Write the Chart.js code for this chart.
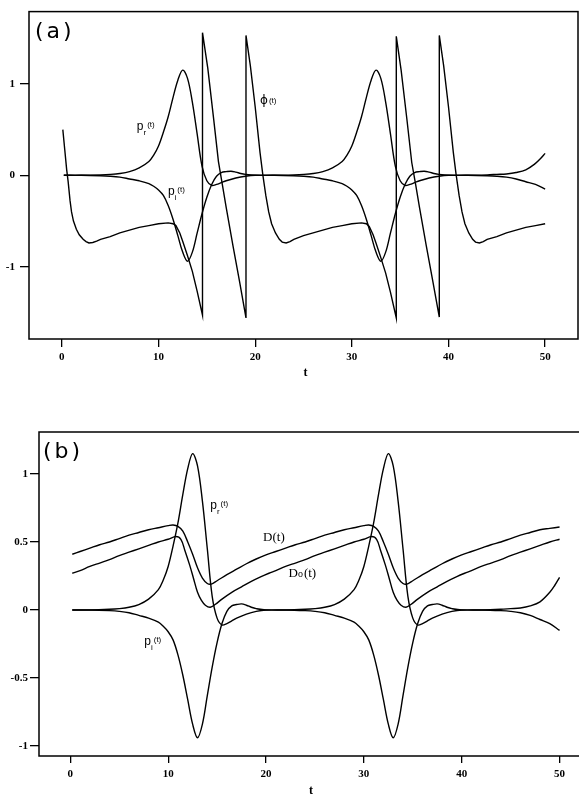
<!DOCTYPE html>
<html><head><meta charset="utf-8">
<script src="https://cdn.jsdelivr.net/npm/chart.js@4"></script>
<style>
html,body{margin:0;padding:0;background:#fff;overflow:hidden;width:579px;height:794px;}
canvas{position:absolute;left:0;}
#ca{top:0;}
#cb{top:390px;}
</style></head><body>
<canvas id="ca" width="579" height="385"></canvas>
<canvas id="cb" width="590" height="404"></canvas>
<script>
// ---------- data ----------
const xTicks = [0, 10, 20, 30, 40, 50];
const yTicksA = [1, 0, -1];
const yTicksB = [1, 0.5, 0, -0.5, -1];
const yTickLabelsB = ['1', '0.5', '0', '-0.5', '-1'];

const prT = [0.2,2,4,5,6,7,8,9,9.5,10,10.5,11,11.5,12,12.5,13,13.5,14,14.5,15,15.5,16,16.5,17,18,19,20,
  22,24,25,26,27,28,29,29.5,30,30.5,31,31.5,32,32.5,33,33.5,34,34.5,35,35.5,36,36.5,37,38,39,40,
  42,44,45,46,47,48,49,49.5,50];
const prV = [0,0,0.005,0.01,0.02,0.04,0.08,0.15,0.22,0.32,0.47,0.64,0.85,1.04,1.15,1.06,0.8,0.45,0.1,-0.06,-0.11,-0.1,-0.08,-0.06,-0.03,-0.01,0,
  0,0.005,0.01,0.02,0.04,0.08,0.15,0.22,0.32,0.47,0.64,0.85,1.04,1.15,1.06,0.8,0.45,0.1,-0.06,-0.11,-0.1,-0.08,-0.06,-0.03,-0.01,0,
  0,0.005,0.01,0.015,0.03,0.06,0.13,0.18,0.24];

const piT = [0.2,2,4,5,6,7,8,9,9.5,10,10.5,11,11.5,12,12.5,13,13.5,14,14.5,15,15.5,16,16.5,17,17.5,18,18.5,19,20,
  22,24,25,26,27,28,29,29.5,30,30.5,31,31.5,32,32.5,33,33.5,34,34.5,35,35.5,36,36.5,37,37.5,38,38.5,39,40,
  42,44,45,46,47,48,49,50];
const piV = [0,0,-0.005,-0.01,-0.02,-0.04,-0.06,-0.09,-0.12,-0.16,-0.22,-0.33,-0.48,-0.66,-0.84,-0.94,-0.84,-0.63,-0.42,-0.24,-0.1,-0.01,0.03,0.04,0.045,0.035,0.02,0.01,0,
  0,-0.005,-0.01,-0.02,-0.04,-0.06,-0.09,-0.12,-0.16,-0.22,-0.33,-0.48,-0.66,-0.84,-0.94,-0.84,-0.63,-0.42,-0.24,-0.1,-0.01,0.03,0.04,0.045,0.035,0.02,0.01,0,
  0,-0.005,-0.01,-0.02,-0.04,-0.07,-0.1,-0.15];

const phiT = [0.1,0.3,0.5,0.65,0.85,1,1.2,1.5,1.8,2.2,2.5,2.8,3.2,3.6,4,5,6,7,8,9,10,11,11.5,11.8,12.2,12.5,13,13.5,14,14.55,
  14.55,15.1,15.7,16.2,16.6,17,17.7,18.4,19.05,
  19.05,19.5,20,20.5,20.8,21.1,21.4,21.7,22.1,22.5,22.8,23.2,23.6,24,25,26,27,28,29,30,31,31.5,31.8,32.2,32.5,33,33.5,34,34.6,
  34.6,35.1,35.7,36.2,36.6,37,37.7,38.4,39.05,
  39.05,39.5,40,40.5,40.8,41.1,41.4,41.7,42.1,42.5,42.8,43.2,43.6,44,45,46,47,48,49,50];
const phiV = [0.5,0.28,0.06,-0.07,-0.28,-0.4,-0.5,-0.59,-0.65,-0.7,-0.725,-0.74,-0.735,-0.72,-0.7,-0.67,-0.63,-0.6,-0.57,-0.55,-0.53,-0.52,-0.53,-0.55,-0.63,-0.72,-0.88,-1.05,-1.27,-1.53,
  1.56,1.17,0.62,0.15,-0.1,-0.35,-0.77,-1.17,-1.56,
  1.53,1.2,0.75,0.25,0.0,-0.22,-0.4,-0.53,-0.63,-0.7,-0.73,-0.74,-0.725,-0.7,-0.66,-0.63,-0.6,-0.57,-0.55,-0.53,-0.52,-0.53,-0.56,-0.65,-0.74,-0.9,-1.07,-1.28,-1.56,
  1.52,1.15,0.61,0.14,-0.1,-0.35,-0.77,-1.17,-1.55,
  1.53,1.2,0.75,0.25,0.0,-0.22,-0.4,-0.53,-0.63,-0.7,-0.73,-0.74,-0.725,-0.7,-0.67,-0.63,-0.6,-0.57,-0.55,-0.53];

const dT = [0.2,1,2,3,4,5,6,7,8,9,10,10.5,11,11.5,12,12.5,13,13.5,14,14.4,15,16,17,18,19,20,
  21,22,23,24,25,26,27,28,29,30,30.5,31,31.5,32,32.5,33,33.5,34,34.4,35,36,37,38,39,40,
  41,42,43,44,45,46,47,48,49,50];
const dV = [0.41,0.43,0.455,0.48,0.5,0.525,0.55,0.57,0.59,0.605,0.62,0.625,0.615,0.58,0.5,0.41,0.31,0.235,0.195,0.19,0.215,0.26,0.3,0.34,0.375,0.405,
  0.43,0.455,0.48,0.5,0.525,0.55,0.57,0.59,0.605,0.62,0.625,0.615,0.58,0.5,0.41,0.31,0.235,0.195,0.19,0.215,0.26,0.3,0.34,0.375,0.405,
  0.43,0.455,0.48,0.5,0.525,0.55,0.57,0.59,0.6,0.61];

const d0T = [0.2,1,2,3,4,5,6,7,8,9,10,10.8,11.3,11.7,12.2,12.6,13,13.4,13.8,14.3,14.8,15.5,16.5,17.5,18.5,19.5,20.3,
  21,22,23,24,25,26,27,28,29,30,30.8,31.3,31.7,32.2,32.6,33,33.4,33.8,34.3,34.8,35.5,36.5,37.5,38.5,39.5,40.3,
  41,42,43,44,45,46,47,48,49,50];
const d0V = [0.27,0.29,0.32,0.345,0.37,0.4,0.425,0.45,0.475,0.5,0.52,0.54,0.52,0.44,0.33,0.23,0.13,0.07,0.035,0.02,0.04,0.08,0.13,0.17,0.21,0.245,0.27,
  0.29,0.32,0.345,0.37,0.4,0.425,0.45,0.475,0.5,0.52,0.54,0.52,0.44,0.33,0.23,0.13,0.07,0.035,0.02,0.04,0.08,0.13,0.17,0.21,0.245,0.27,
  0.29,0.32,0.345,0.37,0.4,0.425,0.45,0.475,0.5,0.52];

// ---------- helpers ----------
const pts = (T, V) => T.map((t, i) => ({x: t, y: V[i]}));
const line = (T, V, tension) => ({
  data: pts(T, V), borderColor: '#000', borderWidth: 1.4, pointRadius: 0,
  fill: false, tension: tension
});

function drawParts(ctx, x, y, parts) {
  let cx = x;
  for (const p of parts) {
    ctx.font = p.font;
    ctx.fillText(p.s, cx, y + (p.dy || 0));
    cx += ctx.measureText(p.s).width + (p.gap || 0);
  }
}

function makePlugin(panel, labels) {
  return {
    id: 'deco' + panel,
    afterDraw(chart) {
      const ctx = chart.ctx, ca = chart.chartArea;
      const sx = chart.scales.x, sy = chart.scales.y;
      ctx.save();
      ctx.strokeStyle = '#000';
      ctx.lineWidth = 1.5;
      ctx.strokeRect(ca.left, ca.top, ca.right - ca.left, ca.bottom - ca.top);
      ctx.fillStyle = '#000';
      ctx.textBaseline = 'alphabetic';
      ctx.textAlign = 'left';
      const f = "22px 'DejaVu Sans'";
      drawParts(ctx, ca.left + (panel === 'a' ? 6 : 4), ca.top + 26,
        [{s: '(', font: f, gap: 3}, {s: panel, font: f, gap: 3}, {s: ')', font: f}]);
      for (const L of labels) {
        drawParts(ctx, sx.getPixelForValue(L.t), sy.getPixelForValue(L.v), L.parts);
      }
      ctx.font = "bold 12px 'Liberation Serif'";
      ctx.textAlign = 'center';
      ctx.fillText('t', (ca.left + Math.min(ca.right, 579)) / 2 + 2, ca.bottom + (panel === 'a' ? 37 : 38));
      ctx.restore();
    }
  };
}

const pF = "12px 'Liberation Sans'", sF = "8px 'Liberation Sans'", tF = "8px 'Liberation Sans'";
const prLabel = (t, v) => ({t, v, parts: [{s: 'p', font: pF, gap: 0}, {s: 'r', font: sF, dy: 5, gap: 1}, {s: '(t)', font: tF, dy: -3}]});
const piLabel = (t, v) => ({t, v, parts: [{s: 'p', font: pF, gap: 0}, {s: 'i', font: sF, dy: 5, gap: 1}, {s: '(t)', font: tF, dy: -3}]});

const labelsA = [
  prLabel(7.76, 0.49),
  piLabel(10.97, -0.22),
  {t: 20.5, v: 0.78, parts: [{s: 'ϕ', font: "12px 'DejaVu Sans'", gap: 1}, {s: '(t)', font: "8px 'Liberation Sans'", dy: -1}]}
];
const labelsB = [
  prLabel(14.3, 0.74),
  piLabel(7.56, -0.26),
  {t: 19.7, v: 0.51, parts: [{s: 'D(t)', font: "13px 'Liberation Serif'"}]},
  {t: 22.3, v: 0.245, parts: [{s: 'D', font: "13px 'Liberation Serif'", gap: 0}, {s: 'o', font: "10px 'Liberation Serif'", gap: 1}, {s: '(t)', font: "13px 'Liberation Serif'"}]}
];

function axes(xmin, xmax, ymin, ymax, yTicks, yLabels, yWidth, xHeight, xTickLen, yTickLen, xPad, yPad) {
  const tickFont = {family: "'Liberation Serif'", size: 11, weight: 'bold'};
  return {
    x: {
      type: 'linear', min: xmin, max: xmax,
      afterBuildTicks: s => { s.ticks = xTicks.map(v => ({value: v})); },
      afterFit: s => { s.height = xHeight; },
      grid: {display: true, drawOnChartArea: false, drawTicks: true, tickLength: xTickLen, color: '#000', lineWidth: 1.3},
      border: {display: false},
      ticks: {color: '#000', font: tickFont, padding: xPad, maxRotation: 0, autoSkip: false, callback: v => String(v)}
    },
    y: {
      type: 'linear', min: ymin, max: ymax,
      afterBuildTicks: s => { s.ticks = yTicks.map(v => ({value: v})); },
      afterFit: s => { s.width = yWidth; },
      grid: {display: true, drawOnChartArea: false, drawTicks: true, tickLength: yTickLen, color: '#000', lineWidth: 1.3},
      border: {display: false},
      ticks: {color: '#000', font: tickFont, padding: yPad, autoSkip: false,
        callback: (v) => { const i = yTicks.indexOf(v); return i >= 0 ? yLabels[i] : ''; }}
    }
  };
}

const common = {
  responsive: false, animation: false, devicePixelRatio: 1,
  plugins: {legend: {display: false}, tooltip: {enabled: false}},
  events: []
};

new Chart(document.getElementById('ca'), {
  type: 'line',
  data: {datasets: [line(prT, prV, 0.35), line(piT, piV, 0.35), line(phiT, phiV, 0)]},
  options: Object.assign({}, common, {
    layout: {padding: {top: 9, right: 1, left: 0, bottom: 0}},
    scales: axes(-3.4, 53.4, -1.79, 1.79, yTicksA, yTicksA.map(String), 29, 46, 8, 9, 4, 5)
  }),
  plugins: [makePlugin('a', labelsA)]
});

new Chart(document.getElementById('cb'), {
  type: 'line',
  data: {datasets: [line(prT, prV, 0.35), line(piT, piV, 0.35), line(dT, dV, 0.35), line(d0T, d0V, 0.35)]},
  options: Object.assign({}, common, {
    layout: {padding: {top: 42, right: 5, left: 0, bottom: 0}},
    scales: axes(-3.2, 52.6, -1.074, 1.309, yTicksB, yTickLabelsB, 39, 38, 7, 9, 5, 2)
  }),
  plugins: [makePlugin('b', labelsB)]
});
</script>
</body></html>
